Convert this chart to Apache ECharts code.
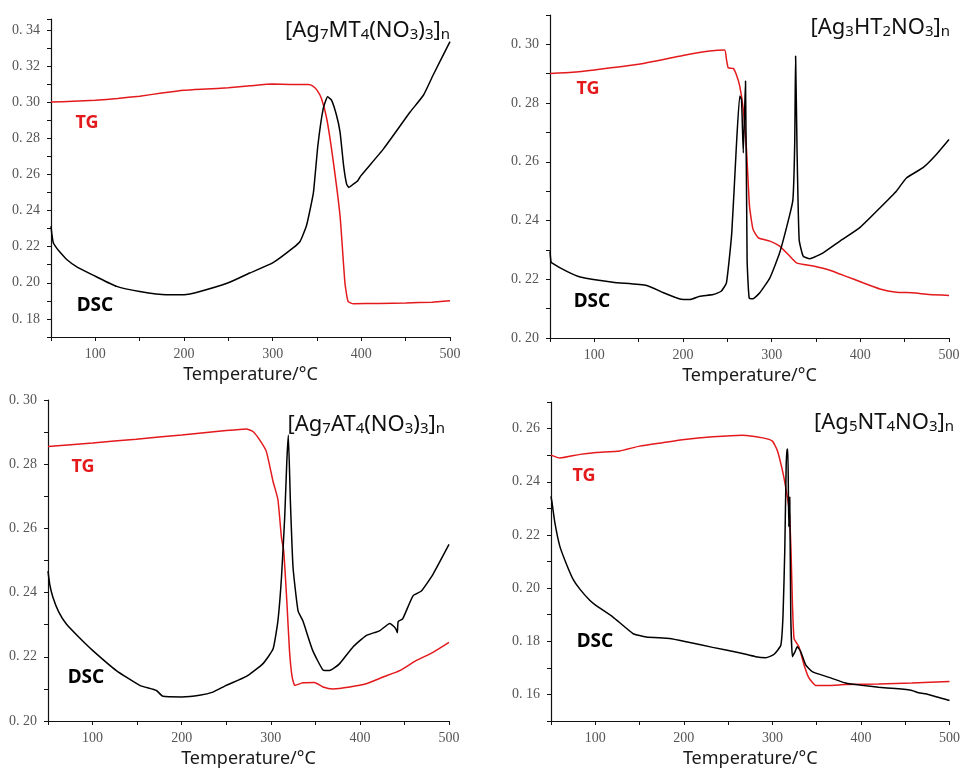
<!DOCTYPE html>
<html>
<head>
<meta charset="utf-8">
<script src="https://cdn.jsdelivr.net/npm/echarts@6/dist/echarts.min.js"></script>
<style>
  html, body { margin: 0; padding: 0; background: #fff; }
  #main { width: 963px; height: 769px; }
</style>
</head>
<body>
<div id="main"></div>
<script>
// TG / DSC curves, [temperature °C, signal]
var tg1 = [[50,0.300],[75,0.3005],[100,0.301],[125,0.302],[150,0.3033],[175,0.305],[200,0.3065],[225,0.3072],[250,0.3079],[275,0.309],[300,0.310],[320,0.3098],[340,0.3097],[345,0.309],[350,0.3066],[355,0.302],[361,0.2908],[368,0.2685],[376,0.237],[381.5,0.20],[385,0.1897],[391,0.1884],[420,0.1886],[450,0.1888],[480,0.1893],[500,0.190]];
var dsc1 = [[50,0.2314],[51,0.2268],[52.6,0.2222],[56,0.2195],[60,0.217],[67.7,0.2129],[80,0.2085],[100,0.2036],[124,0.198],[150,0.1952],[180,0.1934],[200,0.1934],[218,0.1952],[250,0.200],[274,0.2054],[300,0.211],[323,0.2193],[331,0.223],[338,0.2314],[342,0.240],[346,0.25],[351,0.276],[357,0.2964],[362,0.3029],[366.5,0.301],[372,0.2927],[376,0.2834],[380,0.2648],[383.4,0.2546],[386,0.2528],[391,0.2546],[396,0.2565],[399.6,0.2593],[425,0.2741],[455,0.2945],[470,0.3038],[481,0.315],[500,0.3335]];

var tg2 = [[50,0.2901],[75,0.2905],[100,0.2913],[150,0.2932],[200,0.2962],[230,0.2977],[247,0.2981],[249,0.2949],[251,0.292],[256.6,0.2918],[260,0.2898],[264,0.2858],[268,0.2778],[271.6,0.2642],[275,0.2449],[279,0.237],[285,0.2341],[298,0.233],[309,0.2313],[320,0.228],[328,0.2256],[347,0.2245],[365.5,0.2231],[384,0.221],[403,0.2188],[422,0.2167],[440.6,0.2156],[459,0.2154],[478,0.2148],[500,0.2145]];
var dsc2 = [[50,0.2295],[51,0.2262],[52,0.2256],[69,0.2227],[84,0.2208],[121,0.219],[159,0.2179],[178,0.2154],[196.5,0.2133],[208,0.2131],[219,0.2142],[234,0.2148],[243,0.2159],[249,0.2188],[255,0.2358],[260,0.2642],[264,0.2824],[266,0.2812],[268,0.263],[270.5,0.2875],[272.3,0.2267],[274.6,0.2137],[279,0.2134],[286.6,0.2154],[298,0.2205],[309,0.229],[320,0.2415],[324,0.2472],[326,0.2665],[327,0.296],[328.6,0.2642],[331,0.2335],[335.5,0.2279],[343,0.227],[358,0.229],[377,0.233],[399,0.2375],[422,0.2443],[440.6,0.25],[452,0.2545],[470.7,0.258],[485.7,0.2625],[500,0.2676]];

var tg3 = [[50,0.2855],[100,0.2866],[149,0.2878],[200,0.2891],[250,0.2905],[272.6,0.291],[280,0.2902],[287.5,0.2876],[295,0.284],[302.5,0.2747],[308,0.269],[312,0.2571],[314.5,0.253],[318,0.2374],[321,0.2219],[324,0.2137],[327,0.2111],[336,0.2119],[349,0.212],[358.6,0.2106],[370,0.210],[388.6,0.2106],[407,0.2116],[426,0.2137],[444.7,0.2157],[463,0.2188],[482,0.2214],[500,0.2245]];
var dsc3 = [[50,0.2467],[52,0.2425],[55.6,0.2385],[62,0.234],[70.6,0.2302],[85,0.226],[100,0.222],[126.7,0.2157],[153,0.2111],[171.6,0.2095],[179,0.2077],[200,0.2075],[220,0.208],[235,0.209],[250,0.2111],[272.6,0.2139],[291,0.2178],[302.5,0.2224],[308,0.2312],[312,0.2447],[315.6,0.2633],[318,0.2809],[319.7,0.2891],[322,0.2685],[325,0.2478],[330.6,0.2343],[336,0.2312],[347,0.222],[358.6,0.2159],[366,0.2157],[377,0.2178],[392,0.223],[407,0.2266],[422,0.2281],[433.5,0.2304],[439,0.2292],[441,0.2283],[442,0.2275],[443,0.231],[448,0.2318],[459.6,0.239],[469,0.2405],[482,0.2457],[500,0.255]];

var tg4 = [[50,0.25],[60,0.2489],[82.6,0.2503],[101,0.251],[127.6,0.2516],[150,0.2534],[176,0.2547],[200.75,0.2559],[232.6,0.2569],[266,0.2575],[289,0.2565],[300,0.2553],[305.75,0.2516],[311.4,0.2442],[315,0.238],[319,0.2293],[321,0.2144],[322.6,0.1946],[324.5,0.181],[330,0.1779],[335.75,0.1711],[341.4,0.1661],[349,0.1634],[364,0.1634],[382.6,0.1637],[420,0.1639],[457.6,0.1643],[500,0.1649]];
var dsc4 = [[50,0.2345],[51,0.2325],[54.5,0.2243],[60,0.2157],[67.6,0.2089],[75,0.2033],[82.6,0.1996],[94,0.1953],[101,0.1934],[120,0.1891],[142.6,0.1829],[157.6,0.1816],[184,0.181],[202.6,0.1798],[232.6,0.1777],[262.6,0.1757],[281,0.1742],[292.6,0.1738],[302,0.1751],[309.5,0.1785],[312,0.1897],[314,0.2144],[315.5,0.245],[316.5,0.2522],[317.5,0.2522],[318.5,0.2231],[319.6,0.2343],[320.75,0.1897],[322.6,0.1742],[325.6,0.1761],[328,0.1779],[332,0.1761],[337.6,0.1711],[345,0.1686],[364,0.1664],[382.6,0.1643],[401,0.1634],[420,0.1627],[438.9,0.1622],[457.6,0.1615],[465,0.1606],[476,0.16],[500,0.1577]];

// y ranges of the four panels
var yMin = [0.17, 0.20, 0.20, 0.15];
var yMax = [0.346, 0.31, 0.30, 0.27];

// compound names, rich-text (s = subscript)
var names = [
  '{m|[Ag}{s|7}{m|MT}{s|4}{m|(NO}{s|3}{m|)}{s|3}{m|]}{s|n}',
  '{m|[Ag}{s|3}{m|HT}{s|2}{m|NO}{s|3}{m|]}{s|n}',
  '{m|[Ag}{s|7}{m|AT}{s|4}{m|(NO}{s|3}{m|)}{s|3}{m|]}{s|n}',
  '{m|[Ag}{s|5}{m|NT}{s|4}{m|NO}{s|3}{m|]}{s|n}'
];

var chart = echarts.init(document.getElementById('main'));

// grid boxes in px
var boxes = [
  { left: 51, top: 19, width: 399, height: 318 },
  { left: 550, top: 15, width: 399, height: 323 },
  { left: 48, top: 400, width: 401, height: 322 },
  { left: 551, top: 402, width: 400, height: 322 }
];
// where the names and TG / DSC marks go
var nameRight = [508, 8, 513, 4];
var nameTop = [9, 6, 403, 401];
var tgPos = [[87, 123], [588, 89], [83, 467], [584, 476]];
var dscPos = [[95, 306], [592, 302], [86, 678], [595, 642]];

var RED = '#e3191c';
var tgs = [tg1, tg2, tg3, tg4];
var dscs = [dsc1, dsc2, dsc3, dsc4];

var grids = [], xAxes = [], yAxes = [], series = [], titles = [], graphics = [];

for (var i = 0; i < 4; i++) {
  grids.push(boxes[i]);
  xAxes.push({
    type: 'value', gridIndex: i, min: 50, max: 500, interval: 50,
    name: 'Temperature/°C', nameLocation: 'middle', nameGap: 29,
    nameTextStyle: { fontFamily: 'Noto Sans', fontSize: 18, color: '#1a1a1a' },
    axisLine: { lineStyle: { color: '#111', width: 1.2 } },
    axisTick: { length: 4, lineStyle: { color: '#111' } },
    splitLine: { show: false },
    axisLabel: {
      margin: 10, fontFamily: 'Liberation Serif', fontSize: 14, color: '#555',
      formatter: function (v) { return v % 100 === 0 ? String(v) : ''; }
    }
  });
  yAxes.push({
    type: 'value', gridIndex: i, min: yMin[i], max: yMax[i], interval: 0.01,
    axisLine: { show: true, lineStyle: { color: '#111', width: 1.2 } },
    axisTick: { show: true, length: 4, lineStyle: { color: '#111' } },
    splitLine: { show: false },
    axisLabel: {
      margin: 11, fontFamily: 'Liberation Serif', fontSize: 14, color: '#555',
      formatter: function (v) {
        var k = Math.round(v * 100);
        if (k % 2 !== 0 || Math.abs(v * 100 - k) > 0.01) return '';
        return '0. ' + (k < 10 ? '0' + k : k);
      }
    }
  });
  series.push({
    type: 'line', xAxisIndex: i, yAxisIndex: i, data: tgs[i],
    showSymbol: false, animation: false, smooth: 0.15,
    lineStyle: { color: RED, width: 1.5 }, itemStyle: { color: RED }
  });
  series.push({
    type: 'line', xAxisIndex: i, yAxisIndex: i, data: dscs[i],
    showSymbol: false, animation: false, smooth: 0.15,
    lineStyle: { color: '#000', width: 1.5 }, itemStyle: { color: '#000' }
  });
  titles.push({
    text: names[i], right: nameRight[i], top: nameTop[i],
    textStyle: {
      rich: {
        m: { fontFamily: 'Noto Sans', fontWeight: 'normal', fontSize: 22, color: '#111', lineHeight: 28, verticalAlign: 'bottom' },
        s: { fontFamily: 'Noto Sans', fontWeight: 'normal', fontSize: 15, color: '#111', lineHeight: 22, verticalAlign: 'bottom' }
      }
    }
  });
  graphics.push({
    type: 'text', x: tgPos[i][0], y: tgPos[i][1],
    style: { text: 'TG', fill: RED, font: 'bold 18px "Noto Sans"', textAlign: 'center', textVerticalAlign: 'middle' }
  });
  graphics.push({
    type: 'text', x: dscPos[i][0], y: dscPos[i][1],
    style: { text: 'DSC', fill: '#000', font: 'bold 19px "Noto Sans"', textAlign: 'center', textVerticalAlign: 'middle' }
  });
}

chart.setOption({
  backgroundColor: '#fff',
  animation: false,
  title: titles,
  grid: grids,
  xAxis: xAxes,
  yAxis: yAxes,
  series: series,
  graphic: graphics
});
</script>
</body>
</html>
